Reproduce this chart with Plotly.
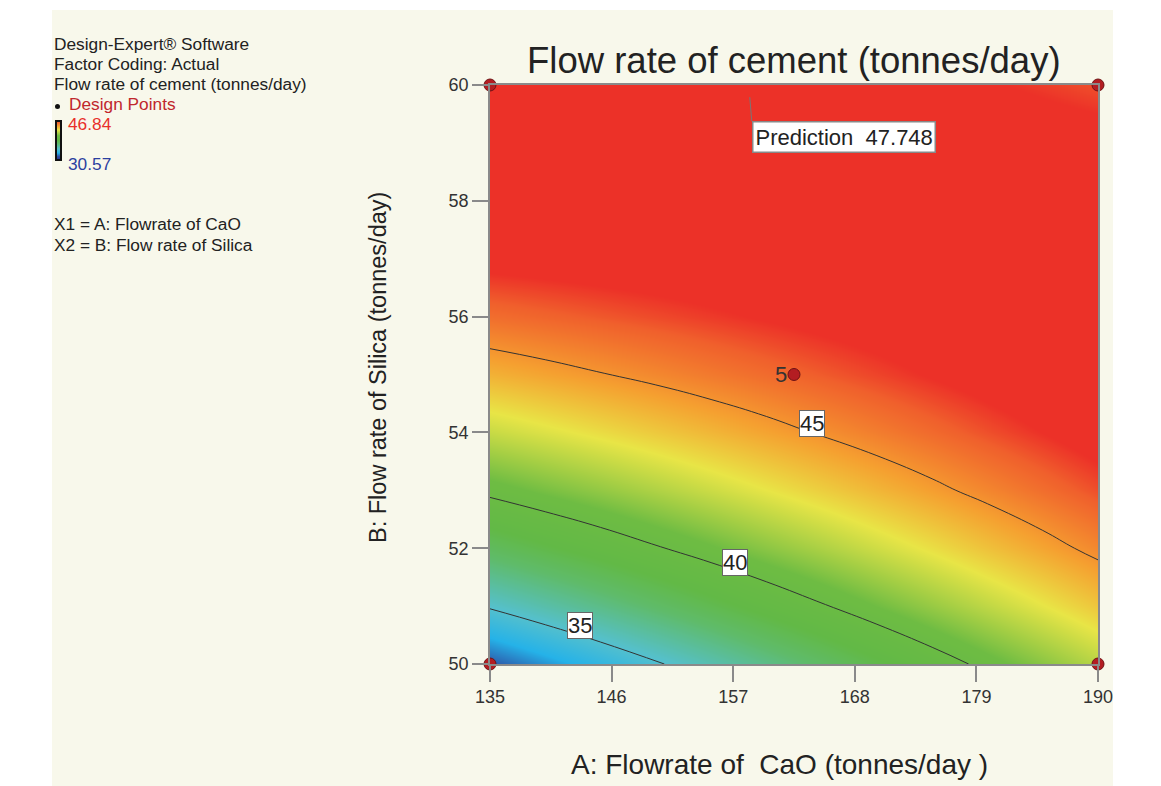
import plotly.graph_objects as go

# Response surface: flow rate of cement (tonnes/day)
flow_cao = [135, 140, 145, 150, 155, 160, 165, 170, 175, 180, 185, 190]
flow_silica = [50, 51, 52, 53, 54, 55, 56, 57, 58, 59, 60]
cement_rate = [
    [32.13, 33.04, 33.95, 34.86, 35.77, 36.68, 37.58, 38.49, 39.40, 40.31, 41.22, 42.13],
    [35.14, 35.93, 36.72, 37.52, 38.31, 39.10, 39.89, 40.69, 41.48, 42.27, 43.06, 43.85],
    [37.86, 38.54, 39.21, 39.89, 40.56, 41.24, 41.91, 42.59, 43.26, 43.94, 44.61, 45.29],
    [40.30, 40.86, 41.41, 41.97, 42.53, 43.09, 43.65, 44.21, 44.76, 45.32, 45.88, 46.44],
    [42.44, 42.88, 43.33, 43.77, 44.21, 44.65, 45.09, 45.53, 45.97, 46.42, 46.86, 47.30],
    [44.30, 44.63, 44.95, 45.27, 45.60, 45.92, 46.25, 46.57, 46.90, 47.22, 47.55, 47.87],
    [45.87, 46.08, 46.29, 46.49, 46.70, 46.91, 47.12, 47.32, 47.53, 47.74, 47.95, 48.15],
    [47.15, 47.24, 47.33, 47.42, 47.52, 47.61, 47.70, 47.79, 47.88, 47.97, 48.06, 48.15],
    [48.15, 48.12, 48.09, 48.07, 48.04, 48.02, 47.99, 47.96, 47.94, 47.91, 47.88, 47.86],
    [48.85, 48.71, 48.57, 48.42, 48.28, 48.14, 47.99, 47.85, 47.71, 47.56, 47.42, 47.28],
    [49.27, 49.01, 48.75, 48.49, 48.23, 47.97, 47.71, 47.45, 47.19, 46.93, 46.67, 46.41],
]
color_min = 30.57
color_max = 46.84
contour_levels = [35, 40, 45]

design_x = [135, 190, 135, 190, 162.5]
design_y = [50, 50, 60, 60, 55]
center_replicates = "5"

pred_x = 158.5
pred_y = 59.79
pred_value = 47.748

x_ticks = [135, 146, 157, 168, 179, 190]
y_ticks = [50, 52, 54, 56, 58, 60]

# contour label placement (data coords)
label_x = [143.1, 157.2, 164.1]
label_y = [50.67, 51.76, 54.16]

FONT = "Liberation Sans, Arial, sans-serif"
CREAM = "#f8f8eb"

# plot area in pixels of the reference picture
L, R, T, B = 490, 1098, 85, 664
PAGE_PAD = 8  # the browser body margin shifts the figure by this much


def px_x(p):
    return (p - L) / (R - L)


def px_y(p):
    return (B - p) / (B - T)


colorscale = [
    [0.0, "#27308a"],
    [0.09, "#2e4fa2"],
    [0.18, "#25b2e8"],
    [0.28, "#55c0cc"],
    [0.42, "#5fbb6a"],
    [0.5, "#62b946"],
    [0.62, "#6ebc43"],
    [0.77, "#e8e546"],
    [0.87, "#f5a030"],
    [0.96, "#f0602c"],
    [1.0, "#ec3128"],
]

fig = go.Figure()

fig.add_trace(
    go.Heatmap(
        x=flow_cao,
        y=flow_silica,
        z=cement_rate,
        zmin=color_min,
        zmax=color_max,
        zsmooth="best",
        colorscale=colorscale,
        hoverinfo="skip",
        colorbar=dict(
            x=px_x(56),
            xanchor="left",
            y=px_y(121),
            yanchor="top",
            len=39,
            lenmode="pixels",
            thickness=5,
            thicknessmode="pixels",
            outlinecolor="#111",
            outlinewidth=2,
            xpad=0,
            ypad=0,
            ticks="",
            showticklabels=False,
        ),
    )
)

fig.add_trace(
    go.Contour(
        x=flow_cao,
        y=flow_silica,
        z=cement_rate,
        contours=dict(
            start=contour_levels[0],
            end=contour_levels[-1],
            size=contour_levels[1] - contour_levels[0],
            coloring="none",
        ),
        line=dict(color="#333333", width=1, smoothing=1.3),
        showscale=False,
        hoverinfo="skip",
    )
)

fig.add_trace(
    go.Scatter(
        x=design_x,
        y=design_y,
        mode="markers",
        marker=dict(size=12, color="#b31d22", line=dict(color="#6e1214", width=1)),
        cliponaxis=False,
        showlegend=False,
        hoverinfo="skip",
    )
)

annotations = []

for lv, lx, ly in zip(contour_levels, label_x, label_y):
    annotations.append(
        dict(
            x=lx,
            y=ly,
            text=str(lv),
            showarrow=False,
            bgcolor="white",
            bordercolor="#666",
            borderwidth=1,
            borderpad=0,
            font=dict(family=FONT, size=22, color="#222"),
        )
    )

annotations.append(
    dict(
        x=design_x[-1],
        y=design_y[-1],
        text=center_replicates,
        showarrow=False,
        xanchor="right",
        yanchor="middle",
        xshift=-5,
        font=dict(family=FONT, size=22, color="#333"),
    )
)

annotations.append(
    dict(
        x=pred_x,
        y=pred_y,
        text=f"Prediction&nbsp;&nbsp;{pred_value:.3f}",
        showarrow=True,
        arrowhead=0,
        arrowwidth=1,
        arrowcolor="#777",
        ax=2,
        ay=24,
        xanchor="left",
        yanchor="top",
        bgcolor="white",
        bordercolor="#888",
        borderwidth=1.5,
        borderpad=2,
        font=dict(family=FONT, size=22, color="#222"),
    )
)

# left-hand legend block
legend_lines = [
    ("Design-Expert® Software", 44, 52, "#222"),
    ("Factor Coding: Actual", 64, 52, "#222"),
    ("Flow rate of cement (tonnes/day)", 84, 52, "#222"),
    ("Design Points", 104, 67, "#c0272d"),
    (f"{color_max:.2f}", 124, 66, "#e8302a"),
    (f"{color_min:.2f}", 164, 66, "#2b3fa0"),
    ("X1 = A: Flowrate of CaO", 224, 52, "#222"),
    ("X2 = B: Flow rate of Silica", 245, 52, "#222"),
]
for text, yy, xx, col in legend_lines:
    annotations.append(
        dict(
            xref="paper",
            yref="paper",
            x=px_x(xx),
            y=px_y(yy),
            text=text,
            showarrow=False,
            xanchor="left",
            yanchor="middle",
            font=dict(family=FONT, size=17.3, color=col),
        )
    )

annotations.append(
    dict(
        xref="paper",
        yref="paper",
        x=px_x(378),
        y=px_y(368),
        text="B: Flow rate of Silica (tonnes/day)",
        textangle=-90,
        showarrow=False,
        xanchor="center",
        yanchor="middle",
        font=dict(family=FONT, size=23.5, color="#222"),
    )
)
annotations.append(
    dict(
        xref="paper",
        yref="paper",
        x=px_x(779),
        y=px_y(764),
        text="A: Flowrate of  CaO (tonnes/day )",
        showarrow=False,
        xanchor="center",
        yanchor="middle",
        font=dict(family=FONT, size=28, color="#222"),
    )
)
annotations.append(
    dict(
        xref="paper",
        yref="paper",
        x=0.5,
        y=px_y(60),
        text="Flow rate of cement (tonnes/day)",
        showarrow=False,
        xanchor="center",
        yanchor="middle",
        font=dict(family=FONT, size=36.5, color="#222"),
    )
)

shapes = [
    dict(
        type="rect",
        xref="paper",
        yref="paper",
        x0=px_x(52),
        x1=px_x(1113),
        y0=px_y(786),
        y1=px_y(10),
        fillcolor=CREAM,
        line=dict(width=0),
        layer="below",
    ),
    # small legend marker for design points
    dict(
        type="circle",
        xref="paper",
        yref="paper",
        x0=px_x(55),
        x1=px_x(60),
        y0=px_y(109),
        y1=px_y(104),
        fillcolor="#111",
        line=dict(width=0),
    ),
]

axis_common = dict(
    showgrid=False,
    zeroline=False,
    showline=True,
    linecolor="#8a8a8a",
    linewidth=1.5,
    mirror=True,
    ticks="outside",
    ticklen=16,
    tickcolor="#8a8a8a",
    tickwidth=1.5,
    tickfont=dict(family=FONT, size=18, color="#333"),
)

fig.update_xaxes(range=[135, 190], tickvals=x_ticks, **axis_common)
fig.update_yaxes(range=[50, 60], tickvals=y_ticks, **axis_common)

fig.update_layout(
    width=1161 - PAGE_PAD,
    height=786 - PAGE_PAD,
    margin=dict(l=L - PAGE_PAD, r=1161 - R, t=T - PAGE_PAD, b=786 - B),
    paper_bgcolor="white",
    plot_bgcolor="rgba(0,0,0,0)",
    showlegend=False,
    annotations=annotations,
    shapes=shapes,
)

fig.write_html("out.html")
